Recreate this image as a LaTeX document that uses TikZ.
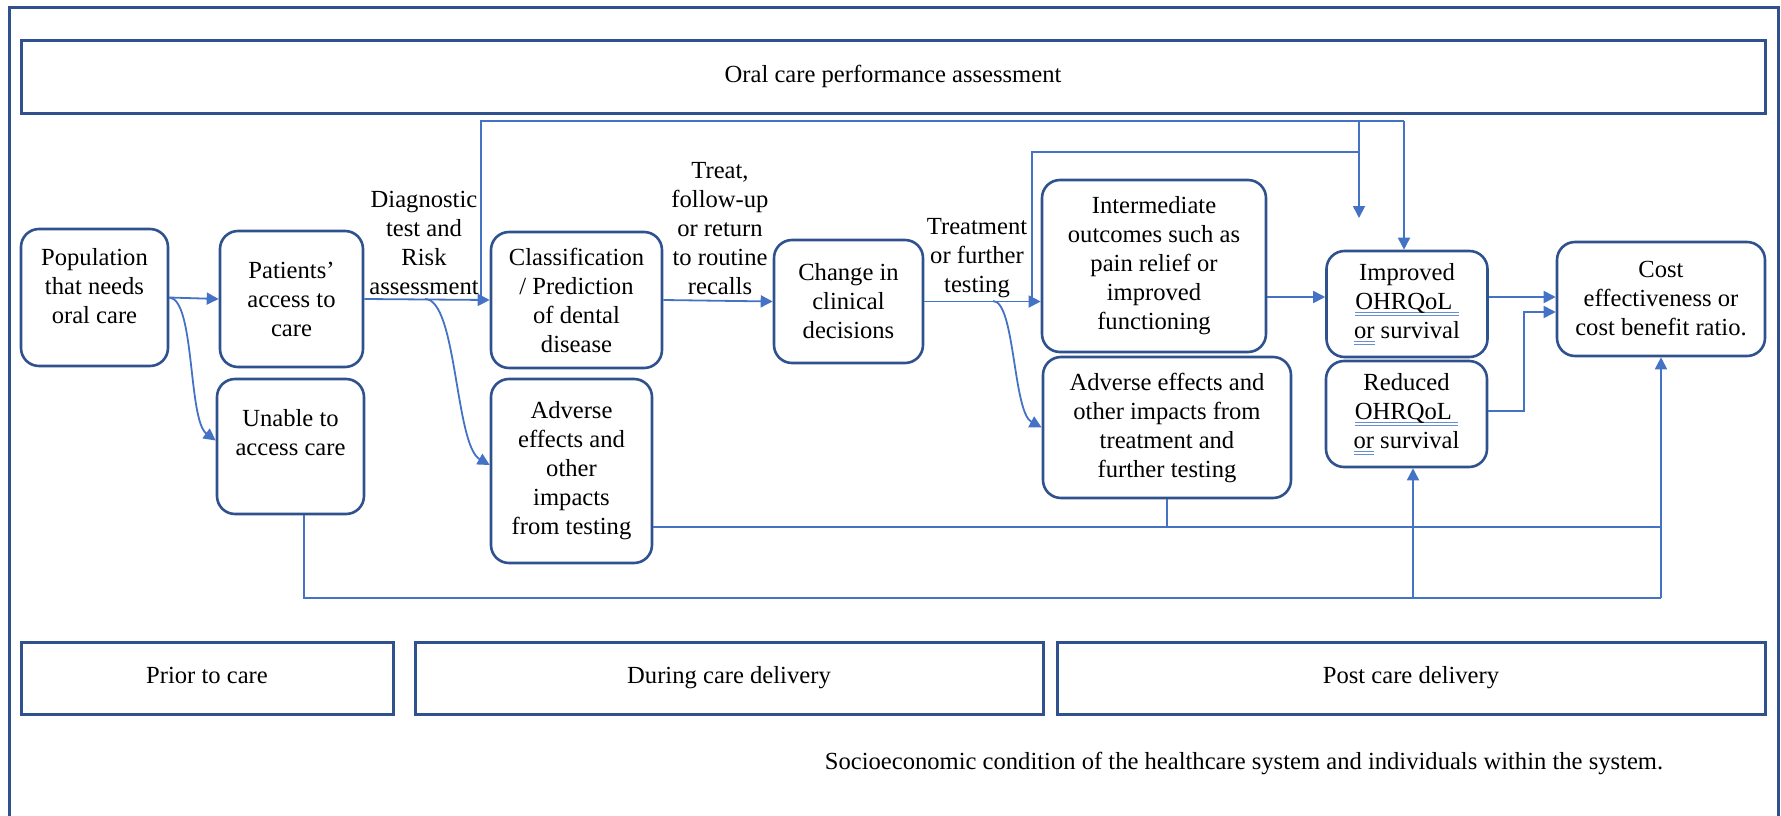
\documentclass[tikz,border=0pt]{standalone}
\usepackage{fontspec}
\setmainfont{Liberation Serif}
\usepackage{xcolor}
\usetikzlibrary{arrows.meta, positioning}

\definecolor{boxblue}{HTML}{2F528F}
\definecolor{lineblue}{HTML}{4472C4}

% double blue underline as in the reference
\newcommand{\squig}[1]{\setbox0\hbox{#1}\rlap{\color{lineblue!80}\rule[-3.5pt]{\wd0}{1pt}}\rlap{\color{lineblue!80}\rule[-6.5pt]{\wd0}{1pt}}\box0\relax}

\begin{document}
\begin{tikzpicture}[
    x=1pt, y=-1pt,
    font=\fontsize{24.6}{29}\selectfont,
    box/.style={rectangle, draw=boxblue, line width=2.6pt, rounded corners=18pt, align=center, inner sep=0pt},
    band/.style={rectangle, draw=boxblue, line width=3pt, inner sep=0pt, execute at begin node=\strut},
    link/.style={draw=lineblue, line width=1.8pt},
    arrow/.style={link, -{Triangle[length=12pt,width=12pt]}},
    lbl/.style={align=center, inner sep=0pt}
]
\useasboundingbox (0,0) rectangle (1781,816);
\clip (0,0) rectangle (1781,816);

% frame and bands
\draw[band] (9,8) rectangle (1778,840);
\node[band, minimum width=1744pt, minimum height=72pt] (title) at (893,77) {Oral care performance assessment};
\node[band, minimum width=372pt, minimum height=72pt] (prior) at (207,678) {Prior to care};
\node[band, minimum width=628pt, minimum height=72pt] (during) at (729,678) {During care delivery};
\node[band, minimum width=708pt, minimum height=72pt] (post) at (1411,678) {Post care delivery};
\node[lbl] (socio) at (1244,763) {Socioeconomic condition of the healthcare system and individuals within the system.};

% boxes
\node[box, minimum width=147pt, minimum height=137pt] (pop) at (94.5,297.5) {Population\\that needs\\oral care\\[-6pt]\mbox{}};
\node[box, minimum width=143pt, minimum height=136pt] (pat) at (291.5,299) {Patients'\\access to\\care};
\node[box, minimum width=147pt, minimum height=135pt] (unable) at (290.5,446.5) {Unable to\\access care\\\mbox{}};
\node[box, minimum width=171pt, minimum height=136pt] (cls) at (576.5,300) {Classification\\/ Prediction\\of dental\\disease};
\node[box, minimum width=161pt, minimum height=184pt] (adv1) at (571.5,471) {Adverse\\effects and\\other\\impacts\\from testing};
\node[box, minimum width=149pt, minimum height=123pt] (chg) at (848.5,301.5) {Change in\\clinical\\decisions};
\node[box, minimum width=224pt, minimum height=172pt] (int) at (1154,266) {Intermediate\\outcomes such as\\pain relief or\\improved\\functioning};
\node[box, minimum width=248pt, minimum height=141pt] (adv2) at (1167,427.5) {Adverse effects and\\other impacts from\\treatment and\\further testing};
\node[box, minimum width=161pt, minimum height=106pt] (imp) at (1407,304) {Improved\\\squig{OHRQoL\ }\\\squig{or} survival};
\node[box, minimum width=161pt, minimum height=106pt] (red) at (1406.5,414) {Reduced\\\squig{OHRQoL\ }\\\squig{or} survival};
\node[box, minimum width=208pt, minimum height=114pt] (cost) at (1661,299) {Cost\\effectiveness or\\cost benefit ratio.};

% labels on the arrows
\node[lbl] (diaglbl) at (424,243) {Diagnostic\\test and\\Risk\\assessment};
\node[lbl] (treatlbl) at (720,228.5) {Treat,\\follow-up\\or return\\to routine\\recalls};
\node[lbl] (testlbl) at (977,258) {Treatment\\or further\\testing};

% junctions
\coordinate (joinA) at (481,299);
\coordinate (forkA) at (425,299);
\coordinate (topA) at (481,121);
\coordinate (topB) at (1404,121);
\coordinate (topC) at (1359,121);
\coordinate (floatC) at (1359,218);
\coordinate (midA) at (1359,152);
\coordinate (midB) at (1032,152);
\coordinate (joinB) at (1032,301);
\coordinate (forkB) at (993,301);
\coordinate (impin) at ([yshift=7pt]imp.west);
\coordinate (advline) at (1661,527);
\coordinate (botA) at (304,598);
\coordinate (botB) at (1661,598);
\coordinate (botC) at (1413,598);

% connectors
\draw[arrow] (pop.east) -- (pat.west);
\draw[arrow] (pop.east) .. controls (195,299) and (188,420) .. ([yshift=6pt]unable.west);
\draw[arrow] (pat.east) -- (cls.west);
\draw[arrow] (forkA) .. controls (457,299) and (455,445) .. ([yshift=6pt]adv1.west);
\draw[link] (joinA) -- (topA) -- (topB);
\draw[arrow] (topB) -- (imp.north -| topB);
\draw[arrow] (topC) -- (floatC);
\draw[link] (midA) -- (midB) -- (joinB);
\draw[arrow] (cls.east) -- (chg.west);
\draw[arrow] (chg.east) -- (chg.east -| int.west);
\draw[arrow] (forkB) .. controls (1015,301) and (1013,412) .. (adv2.west);
\draw[arrow] (int.east |- impin) -- (impin);
\draw[arrow] ([yshift=7pt]imp.east) -- ([yshift=2pt]cost.west);
\draw[arrow] ([yshift=3pt]red.east) -- ++(36,0) |- ([yshift=-13pt]cost.west);
\draw[link] (adv1.east |- advline) -- (advline);
\draw[link] (adv2.south) -- (adv2.south |- advline);
\draw[link] (unable.south -| botA) -- (botA) -- (botB);
\draw[arrow] (botB) -- (cost.south);
\draw[arrow] (botC) -- (red.south -| botC);

\end{tikzpicture}
\end{document}
